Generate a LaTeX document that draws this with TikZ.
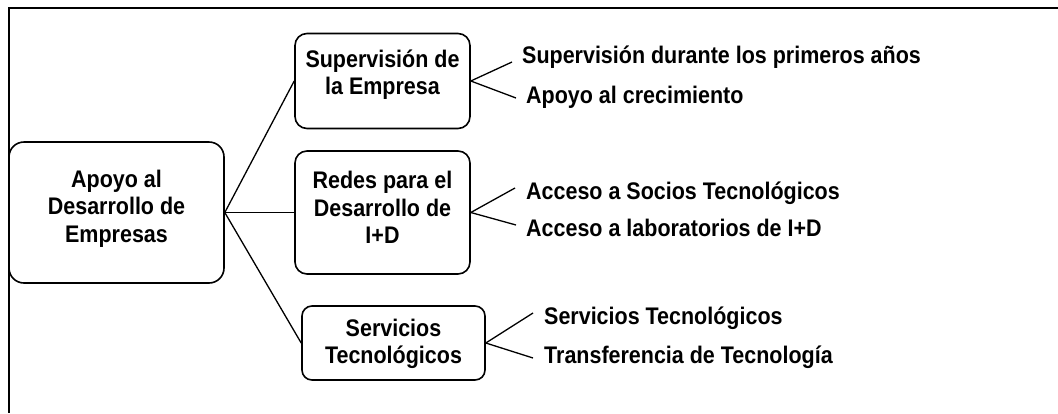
\documentclass[tikz,border=0pt]{standalone}
\usepackage{fontspec}
\setmainfont{Liberation Sans}[FakeStretch=0.895]
\newcommand\boxlines[2]{\raisebox{#1}[\height][\depth]{\begin{tabular}{@{}c@{}}#2\end{tabular}}}
\begin{document}
\begin{tikzpicture}[x=1pt,y=-1pt,
  every node/.style={font=\fontsize{24}{27.5}\selectfont\bfseries},
  box/.style={draw, line width=1.6pt, rounded corners=12pt, inner sep=0pt},
  link/.style={line width=1.3pt},
  leaf/.style={anchor=base west, inner sep=0pt},
  frame/.style={line width=2pt}]
\useasboundingbox (0,0) rectangle (1058,413);
\draw[frame] (1058,8) -- (9,8) -- (9,413);

\node[box, rounded corners=15pt, minimum width=215pt, minimum height=141pt] (root) at (116.5,212.5) {\boxlines{3.25pt}{Apoyo al\\Desarrollo de\\Empresas}};
\node[box, minimum width=175pt, minimum height=95pt] (b1) at (382.5,81) {\boxlines{5.75pt}{Supervisión de\\la Empresa}};
\node[box, minimum width=175pt, minimum height=123pt] (b2) at (382.5,212.5) {\boxlines{1.75pt}{Redes para el\\Desarrollo de\\I+D}};
\node[box, rounded corners=10pt, minimum width=183pt, minimum height=74pt] (b3) at (393.5,343) {\boxlines{-1.25pt}{Servicios\\Tecnológicos}};

\draw[link] (root.east) -- (b1.west);
\draw[link] (root.east) -- (b2.west);
\draw[link] (root.east) -- (b3.west);

\coordinate (e1a) at (512,62);
\coordinate (e1b) at (516,98);
\coordinate (e2a) at (515,188);
\coordinate (e2b) at (516,225);
\coordinate (e3a) at (533,313);
\coordinate (e3b) at (533,358);

\draw[link] (b1.east) -- (e1a);
\draw[link] (b1.east) -- (e1b);
\draw[link] (b2.east) -- (e2a);
\draw[link] (b2.east) -- (e2b);
\draw[link] (b3.east) -- (e3a);
\draw[link] (b3.east) -- (e3b);

\node[leaf] (l1a) at (522,63.3) {Supervisión durante los primeros años};
\node[leaf] (l1b) at (526,103.3) {Apoyo al crecimiento};
\node[leaf] (l2a) at (526,199) {Acceso a Socios Tecnológicos};
\node[leaf] (l2b) at (526,236) {Acceso a laboratorios de I+D};
\node[leaf] (l3a) at (544,324) {Servicios Tecnológicos};
\node[leaf] (l3b) at (544,363) {Transferencia de Tecnología};
\end{tikzpicture}
\end{document}
